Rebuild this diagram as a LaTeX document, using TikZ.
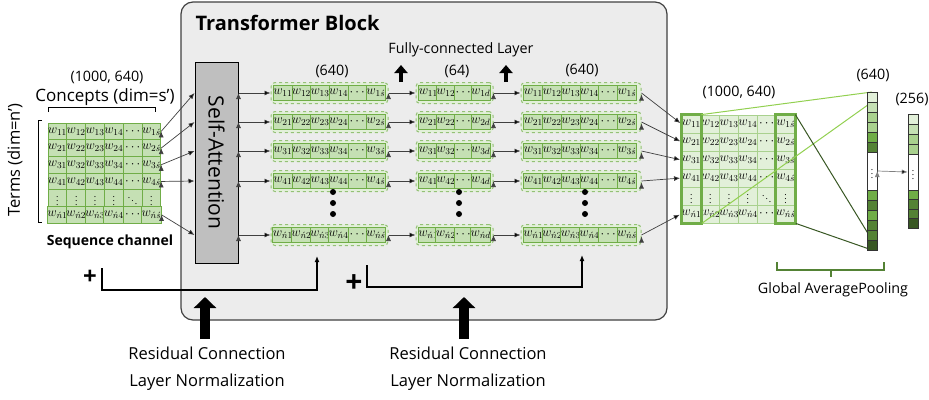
\documentclass[tikz,border=0pt]{standalone}
\usepackage{fix-cm}
\usepackage{fontspec}
\setmainfont{Open Sans}
\usetikzlibrary{arrows.meta}
\definecolor{gA}{HTML}{E2F0D9}
\definecolor{gB}{HTML}{C5E0B4}
\definecolor{gC}{HTML}{A9D18E}
\definecolor{gD}{HTML}{70AD47}
\definecolor{gE}{HTML}{548235}
\definecolor{gF}{HTML}{385723}
\definecolor{gL}{HTML}{92D050}
\begin{document}
\begin{tikzpicture}[x=1pt, y=-1pt, >={Latex[length=6pt,width=5pt]},
			txt/.style={font=\fontsize{14.3}{16}\selectfont},
			incell/.style={draw=gD, fill=gB, line width=0.8pt, inner sep=0pt,
				minimum width=18.8pt, minimum height=16.7pt, font=\fontsize{13}{13}\selectfont},
			bmcell/.style={incell, draw=gC, fill=gA, minimum height=18pt},
			rowcell/.style={incell, minimum width=18.6pt, minimum height=15pt},
			dashrow/.style={draw=gD!75, fill=gA, dashed, rounded corners=4pt, line width=1pt,
				minimum height=21pt, inner sep=0pt},
			vcell/.style={draw=black!80, line width=0.6pt, minimum width=10pt,
				minimum height=10pt, inner sep=0pt, font=\fontsize{9}{9}\selectfont},
			link/.style={->, draw=black!75, line width=0.7pt},
			resline/.style={->, line width=1.4pt},
			fcarrow/.style={line width=4.5pt, -{Triangle[length=8pt,width=13pt]}},
			bigarrow/.style={line width=10pt, -{Triangle[length=11pt,width=22pt]}}]
			\useasboundingbox (0,0) rectangle (929,399);
			
			\node[draw=black!75, fill=gray!15, rounded corners=12pt, line width=1.2pt,
				minimum width=486pt, minimum height=318pt] (tb) at (424,161) {};
			\node[anchor=west, font=\bfseries\fontsize{20}{22}\selectfont] (title) at (192,23) {Transformer Block};
			\node[draw, fill=gray!50, line width=1pt, minimum width=43pt, minimum height=201pt] (sa) at (216.5,162.5) {};
			\node[rotate=-90, font=\fontsize{21}{22}\selectfont] (satext) at (sa.center) {Self-Attention};
			
			% input matrix and output matrix
			\foreach \r/\i in {1/1,2/2,3/3,4/4,5/5,6/{\acute n}}
			\foreach \c/\j in {1/1,2/2,3/3,4/4,5/5,6/{\acute s}} {
				\node[incell] (in-\r-\c) at ({48+18.8*(\c-0.5)},{123+16.7*(\r-0.5)})
					{\ifnum\r=5 \fontsize{9}{9}\selectfont\ifnum\c=5 $\ddots$\else $\vdots$\fi\else\ifnum\c=5 $\cdots$\else $w_{\i\j}$\fi\fi};
				\node[bmcell] (bm-\r-\c) at ({682+18.83*(\c-0.5)},{115+18*(\r-0.5)})
					{\ifnum\r=5 \fontsize{9}{9}\selectfont\ifnum\c=5 $\ddots$\else $\vdots$\fi\else\ifnum\c=5 $\cdots$\else $w_{\i\j}$\fi\fi};
			}
			\draw[gD, line width=3pt] (bm-1-1.north west) rectangle (bm-6-1.south east);
			\draw[gD, line width=3pt] (bm-1-6.north west) rectangle (bm-6-6.south east);
			\draw[line width=0.8pt] (48,112) -- (48,107) -- (155,107) -- (155,112);
			\draw[line width=0.8pt] (42,120) -- (38.5,120) -- (38.5,222) -- (42,222);
			
			% rows inside the block
			\foreach \r/\i/\y in {1/1/93,2/2/122,3/3/151,4/4/181,5/{\acute n}/235} {
				\node[dashrow, minimum width=117pt] (g1-\r) at (329.5,\y) {};
				\node[dashrow, minimum width=77pt] (g2-\r) at (454.5,\y) {};
				\node[dashrow, minimum width=120pt] (g3-\r) at (581,\y) {};
				\foreach \c/\j in {1/1,2/2,3/3,4/4,5/5,6/{\acute s}} {
					\node[rowcell] (c1-\r-\c) at ({273.5+18.6*(\c-0.5)},\y)
						{\ifnum\c=5 $\cdots$\else $w_{\i\j}$\fi};
					\node[rowcell, minimum width=18.7pt] (c3-\r-\c) at ({524+18.7*(\c-0.5)},\y)
						{\ifnum\c=5 $\cdots$\else $w_{\i\j}$\fi};
				}
				\foreach \c/\j in {1/1,2/2,3/3,4/d}
					\node[rowcell, minimum width=17.5pt] (c2-\r-\c) at ({419.5+17.5*(\c-0.5)},\y)
						{\ifnum\c=3 $\cdots$\else $w_{\i\j}$\fi};
				\path[link] (sa.east |- g1-\r) edge (g1-\r.west);
				\path[link] (g1-\r.east) edge (g2-\r.west);
				\path[link] (g2-\r.east) edge (g3-\r.west);
			}
			\foreach \r/\t in {1/1,2/2,3/3,4/4,6/5} {
				\path[link] (in-\r-6.east) edge (sa.west |- g1-\t);
				\path[link, shorten >=1.5pt] (g3-\t.east) edge (bm-\r-1.west);
			}
			\foreach \x in {333,459,585}
			\foreach \y in {192,203,214}
				\fill (\x,\y) circle (3pt);
			
			% pooling
			\draw[gL, line width=1pt] (bm-1-1.north east) -- (872,92);
			\draw[gL, line width=1pt] (bm-6-1.south east) -- (872,102);
			\draw[gF, line width=1pt] (bm-1-6.north east) -- (872,240);
			\draw[gF, line width=1pt] (bm-6-6.south east) -- (872,250);
			\foreach \k/\col in {1/gA,2/gB,3/gC,4/gC,5/gD,6/gE}
				\node[vcell, fill=\col] (vp-\k) at (872,{92+10*(\k-0.5)}) {};
			\node[vcell, fill=white, minimum height=38pt] (vp-gap) at (872,171) {$\vdots$};
			\foreach \k/\col in {7/gD,8/gE,9/gD,10/gE,11/gE,12/gF}
				\node[vcell, fill=\col] (vp-\k) at (872,{190+10*(\k-6.5)}) {};
			\foreach \k/\col in {1/gA,2/gB,3/gC,4/gC}
				\node[vcell, fill=\col] (vq-\k) at (913,{114+10*(\k-0.5)}) {};
			\node[vcell, fill=white, minimum height=36pt] (vq-gap) at (913,172) {$\vdots$};
			\foreach \k/\col in {5/gD,6/gE,7/gE,8/gF}
				\node[vcell, fill=\col, minimum height=9.5pt] (vq-\k) at (913,{190+9.5*(\k-4.5)}) {};
			\path[link, draw=gray] (vp-gap.east) edge (vq-gap.west);
			\draw[gE, line width=2.5pt] (777,262) -- (777,270) -- (884,270) -- (884,262) (831,270) -- (831,277);
			
			% residual connections
			\node[font=\bfseries\fontsize{24}{24}\selectfont] (plus1) at (90,277) {+};
			\node[font=\bfseries\fontsize{30}{30}\selectfont] (plus2) at (354,284) {+};
			\draw[resline] (102,268) |- (317,290) -- (317,256);
			\draw[resline] (367,265) |- (582,287) -- (582,255);
			\draw[bigarrow] (205,339) -- (205,297);
			\draw[bigarrow] (464,339) -- (464,297);
			\draw[fcarrow] (401,82) -- (401,65);
			\draw[fcarrow] (506,82) -- (506,65);
			
			% labels
			\node[txt] (inshape) at (107,77) {(1000, 640)};
			\node[font=\fontsize{17}{18}\selectfont] (concepts) at (105,97) {Concepts (dim=s’)};
			\node[rotate=90, font=\fontsize{16.5}{18}\selectfont] (terms) at (15,160) {Terms (dim=n’)};
			\node[font=\bfseries\fontsize{14}{16}\selectfont] (seq) at (110,242) {Sequence channel};
			\node[txt] (d1) at (332,71) {(640)};
			\node[txt] (d2) at (457,71) {(64)};
			\node[txt] (d3) at (582,70) {(640)};
			\node[txt] (fc) at (461,50) {Fully-connected Layer};
			\node[txt] (bmshape) at (739,92) {(1000, 640)};
			\node[txt] (vpshape) at (873,75) {(640)};
			\node[txt] (vqshape) at (912,99) {(256)};
			\node[txt] (gap) at (833,290) {Global AveragePooling};
			\node[font=\fontsize{16.5}{18}\selectfont] (res1) at (207,353) {Residual Connection};
			\node[font=\fontsize{16.5}{18}\selectfont] (norm1) at (207,382) {Layer Normalization};
			\node[font=\fontsize{16.5}{18}\selectfont] (res2) at (468,353) {Residual Connection};
			\node[font=\fontsize{16.5}{18}\selectfont] (norm2) at (468,382) {Layer Normalization};
\end{tikzpicture}
\end{document}
